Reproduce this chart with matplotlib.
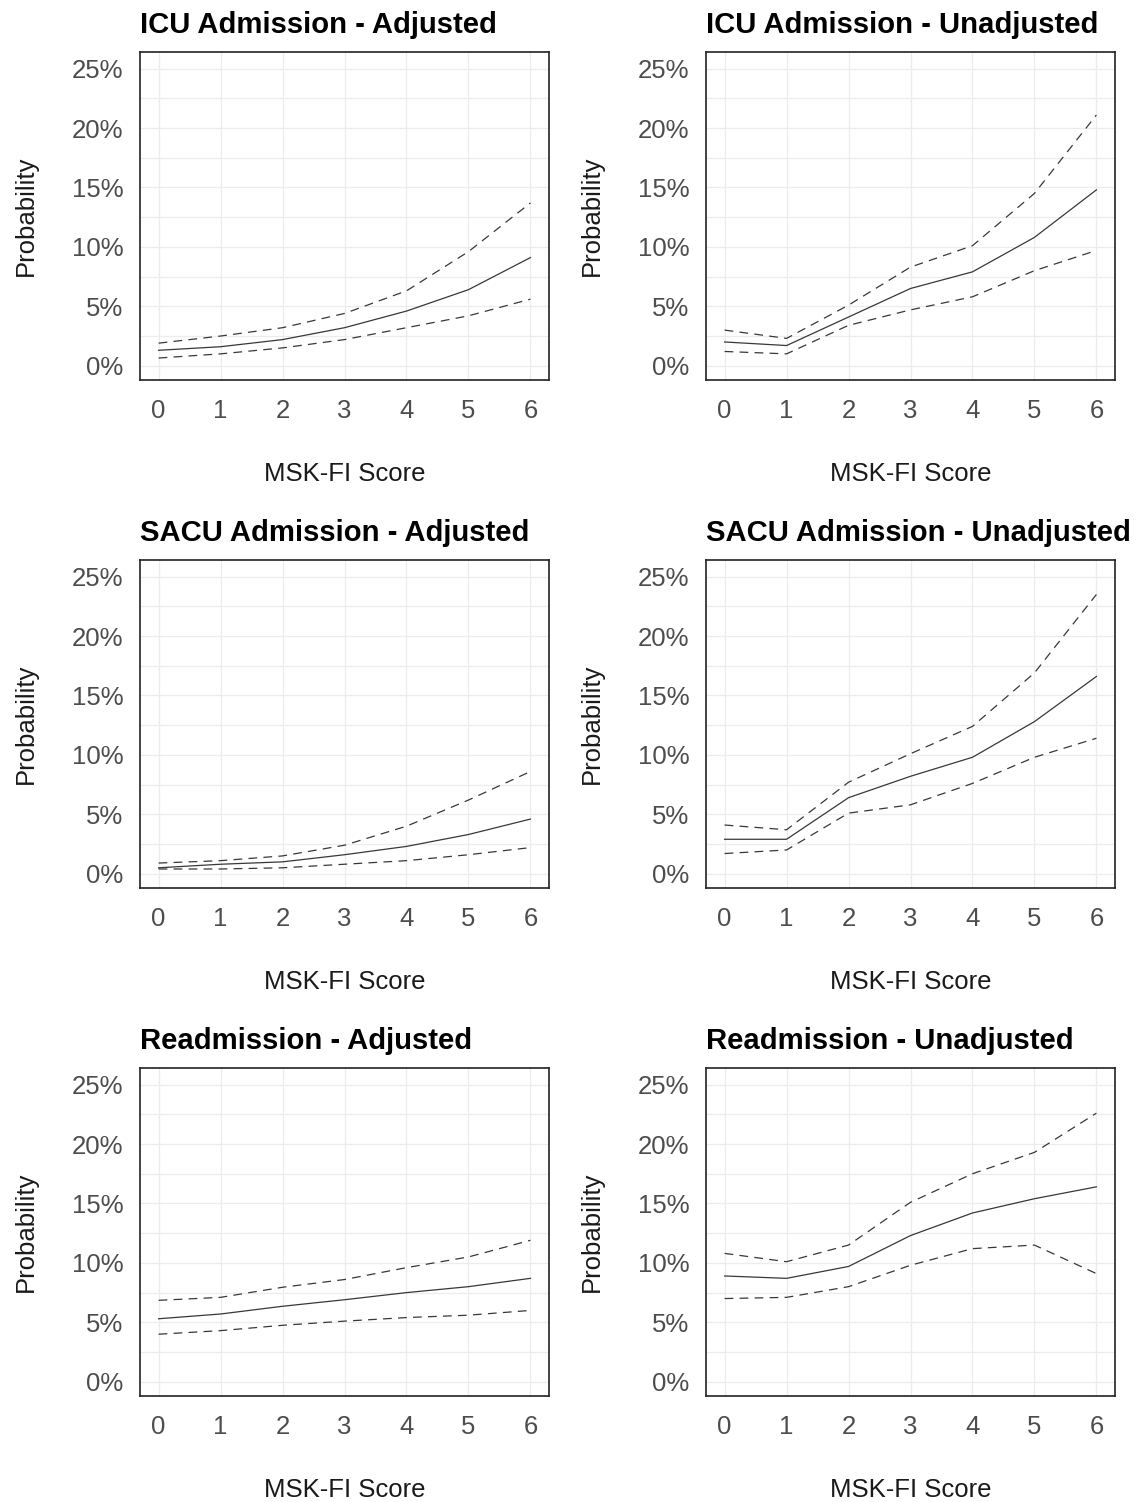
import numpy as np
import matplotlib
matplotlib.use("Agg")
import matplotlib.pyplot as plt
from matplotlib.ticker import MultipleLocator, FuncFormatter

plt.rcParams['font.family'] = ['Liberation Sans', 'DejaVu Sans']

# MSK-FI score on the x axis
scores = [0, 1, 2, 3, 4, 5, 6]

# predicted probability (%) with lower / upper confidence limits
icu_adj_fit = [1.3, 1.6, 2.2, 3.2, 4.6, 6.4, 9.1]
icu_adj_lo = [0.65, 1.0, 1.5, 2.2, 3.2, 4.2, 5.6]
icu_adj_hi = [1.9, 2.5, 3.2, 4.4, 6.3, 9.6, 13.7]

icu_unadj_fit = [2.0, 1.7, 4.1, 6.5, 7.9, 10.8, 14.8]
icu_unadj_lo = [1.2, 1.0, 3.4, 4.7, 5.8, 8.0, 9.7]
icu_unadj_hi = [3.0, 2.3, 5.1, 8.3, 10.1, 14.5, 21.1]

sacu_adj_fit = [0.5, 0.8, 1.0, 1.6, 2.3, 3.3, 4.6]
sacu_adj_lo = [0.4, 0.4, 0.5, 0.8, 1.1, 1.6, 2.2]
sacu_adj_hi = [0.9, 1.1, 1.5, 2.4, 4.0, 6.2, 8.6]

sacu_unadj_fit = [2.9, 2.9, 6.4, 8.2, 9.8, 12.8, 16.6]
sacu_unadj_lo = [1.7, 2.0, 5.1, 5.8, 7.6, 9.8, 11.4]
sacu_unadj_hi = [4.1, 3.7, 7.7, 10.1, 12.4, 16.9, 23.5]

readm_adj_fit = [5.3, 5.7, 6.35, 6.9, 7.5, 8.0, 8.7]
readm_adj_lo = [4.0, 4.3, 4.75, 5.1, 5.4, 5.6, 6.0]
readm_adj_hi = [6.85, 7.1, 7.95, 8.6, 9.6, 10.5, 11.9]

readm_unadj_fit = [8.9, 8.7, 9.7, 12.3, 14.2, 15.4, 16.4]
readm_unadj_lo = [7.0, 7.1, 8.0, 9.8, 11.2, 11.5, 9.1]
readm_unadj_hi = [10.8, 10.1, 11.5, 15.1, 17.5, 19.3, 22.6]

titles = ["ICU Admission - Adjusted", "ICU Admission - Unadjusted",
          "SACU Admission - Adjusted", "SACU Admission - Unadjusted",
          "Readmission - Adjusted", "Readmission - Unadjusted"]
series = [(icu_adj_fit, icu_adj_lo, icu_adj_hi),
          (icu_unadj_fit, icu_unadj_lo, icu_unadj_hi),
          (sacu_adj_fit, sacu_adj_lo, sacu_adj_hi),
          (sacu_unadj_fit, sacu_unadj_lo, sacu_unadj_hi),
          (readm_adj_fit, readm_adj_lo, readm_adj_hi),
          (readm_unadj_fit, readm_unadj_lo, readm_unadj_hi)]

W, H = 1138, 1502
fig = plt.figure(figsize=(W / 100, H / 100), dpi=100)

col_x = [140, 706]
ax_w = 409
row_top = [52, 560, 1068]
ax_h = 328

line_col = '#383838'
for i, (title, (fit, lo, hi)) in enumerate(zip(titles, series)):
    r, c = divmod(i, 2)
    ax = fig.add_axes([col_x[c] / W, 1 - (row_top[r] + ax_h) / H, ax_w / W, ax_h / H])
    ax.plot(scores, fit, color=line_col, lw=0.9, solid_joinstyle='round')
    ax.plot(scores, lo, color=line_col, lw=0.9, linestyle=(0, (7, 5)))
    ax.plot(scores, hi, color=line_col, lw=0.9, linestyle=(0, (7, 5)))

    ax.set_xlim(-0.3, 6.3)
    ax.set_ylim(-1.2, 26.4)
    ax.xaxis.set_major_locator(MultipleLocator(1))
    ax.yaxis.set_major_locator(MultipleLocator(5))
    ax.yaxis.set_minor_locator(MultipleLocator(2.5))
    ax.yaxis.set_major_formatter(FuncFormatter(lambda v, p: f"{v:.0f}%"))
    ax.grid(True, which='both', color='#ececec', lw=0.9)
    ax.set_axisbelow(True)
    ax.tick_params(which='both', length=0, labelsize=18.5, labelcolor='#4d4d4d')
    ax.tick_params(axis='x', pad=14)
    ax.tick_params(axis='y', pad=12)
    for s in ax.spines.values():
        s.set_color('#222222')
        s.set_linewidth(1.2)

    ax.set_title(title, loc='left', fontsize=21.1, fontweight='bold', pad=14, color='black')
    ax.set_xlabel("MSK-FI Score", fontsize=18.5, color='#1a1a1a', labelpad=28)
    ax.set_ylabel("Probability", fontsize=18.5, color='#1a1a1a', labelpad=24)

fig.savefig("out.png", dpi=100, facecolor='white')
